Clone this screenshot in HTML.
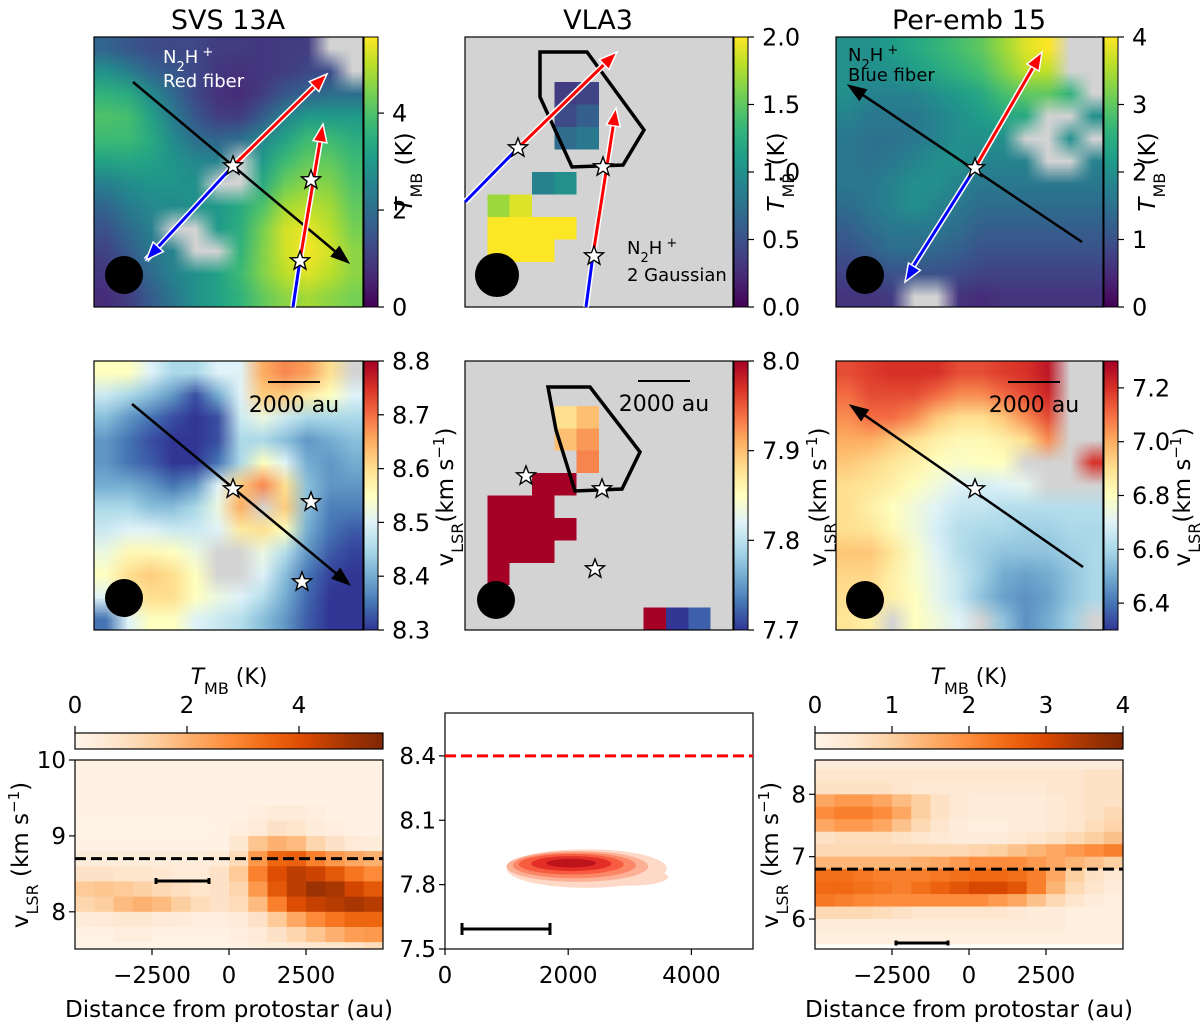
<!DOCTYPE html>
<html><head><meta charset="utf-8">
<style>
html,body{margin:0;padding:0;background:#fff;}
#wrap{position:relative;width:1200px;height:1025px;overflow:hidden;font-family:"Liberation Sans","DejaVu Sans",sans-serif;}
canvas{position:absolute;}
canvas.sm{image-rendering:auto;}
canvas.px{image-rendering:pixelated;}
svg{position:absolute;left:0;top:0;}
text{font-family:"DejaVu Sans","Liberation Sans",sans-serif;fill:#000;}
</style></head>
<body>
<div id="wrap">
<svg id="fig" width="1200" height="1025" viewBox="0 0 1200 1025">
<defs></defs>
<text x="228" y="29" font-size="27" text-anchor="middle">SVS 13A</text>
<text x="598" y="29" font-size="27" text-anchor="middle">VLA3</text>
<text x="969" y="29" font-size="27" text-anchor="middle">Per-emb 15</text>
</svg>
</div>
<script>
// ---------------- data ----------------
const svsT = [
[1.8,1.5,1.3,1.2,1.2,1.0,1.0,0.9,1.0,1.0,null,null],
[2.8,2.4,1.8,1.5,1.2,0.9,0.8,0.9,1.0,1.2,1.3,null],
[3.6,3.4,2.7,1.9,1.2,0.8,0.7,1.0,1.5,1.8,2.0,2.0],
[4.0,3.9,3.2,2.3,1.5,1.0,1.0,1.6,2.5,3.0,3.0,3.0],
[3.8,3.8,3.4,2.7,2.0,1.8,2.0,2.6,3.2,3.8,3.8,3.5],
[3.2,3.3,3.2,2.9,2.6,2.5,null,3.0,3.8,4.2,4.2,3.8],
[2.4,2.7,2.9,2.9,2.8,null,null,3.4,4.3,4.6,4.5,4.0],
[1.8,2.3,2.6,2.7,2.8,3.0,3.4,4.0,4.8,5.0,4.8,4.2],
[1.4,1.9,2.4,null,null,3.0,3.5,4.4,5.2,5.4,5.0,4.4],
[1.1,1.6,2.2,2.5,null,null,3.6,4.5,5.2,5.5,5.2,4.6],
[0.9,1.3,1.9,2.5,2.8,3.2,3.8,4.5,5.0,5.3,5.0,4.6],
[0.7,1.0,1.6,2.2,2.8,3.2,3.6,4.2,4.6,4.8,4.6,4.4]];
const N = null;
const vla3T = [
[N,N,N,N,N,N,N,N,N,N,N,N],
[N,N,N,N,N,N,N,N,N,N,N,N],
[N,N,N,N,0.35,0.4,N,N,N,N,N,N],
[N,N,N,N,0.45,0.6,N,N,N,N,N,N],
[N,N,N,N,0.7,0.8,N,N,N,N,N,N],
[N,N,N,N,N,N,N,N,N,N,N,N],
[N,N,N,0.9,1.0,N,N,N,N,N,N,N],
[N,1.7,1.9,N,N,N,N,N,N,N,N,N],
[N,2.0,2.0,2.0,2.0,N,N,N,N,N,N,N],
[N,2.0,2.0,2.0,N,N,N,N,N,N,N,N],
[N,N,N,N,N,N,N,N,N,N,N,N],
[N,N,N,N,N,N,N,N,N,N,N,N]];
const perT = [
[2.0,2.0,2.2,2.4,2.6,2.8,3.0,3.4,3.8,4.0,N,N],
[2.0,2.0,2.0,2.2,2.4,2.6,2.8,3.2,3.6,3.6,N,N],
[2.0,1.8,1.8,1.8,2.0,2.2,2.4,2.8,3.0,3.0,2.6,N],
[1.8,1.6,1.6,1.6,1.8,2.0,2.2,2.4,2.4,N,N,2.0],
[1.6,1.5,1.5,1.6,1.8,2.0,2.0,2.0,N,N,2.0,N],
[1.6,1.5,1.6,1.8,2.0,2.0,1.8,1.8,1.8,N,N,1.8],
[1.6,1.6,1.8,2.0,2.0,1.8,1.6,1.6,1.6,1.6,1.6,1.6],
[1.4,1.6,1.8,2.0,1.8,1.6,1.4,1.4,1.4,1.4,1.4,1.4],
[1.2,1.4,1.6,1.6,1.6,1.4,1.2,1.2,1.2,1.2,1.2,1.2],
[1.0,1.2,1.4,1.4,1.3,1.2,1.0,1.0,1.0,1.0,1.0,1.0],
[0.8,0.9,1.0,1.0,1.0,0.9,0.8,0.8,0.8,0.8,0.8,0.8],
[0.6,0.6,0.7,N,N,0.6,0.5,0.6,0.6,0.6,0.6,0.6]];
const svsV = [
[8.55,8.55,8.5,8.45,8.45,8.5,8.5,8.65,8.68,8.66,8.6,N],
[8.48,8.45,8.42,8.38,8.32,8.4,8.5,8.62,8.62,8.58,8.55,8.5],
[8.42,8.38,8.35,8.32,8.3,8.32,8.48,8.52,8.48,8.45,8.45,8.45],
[8.38,8.35,8.32,8.3,8.3,8.32,8.45,8.45,8.42,8.38,8.4,8.42],
[8.38,8.35,8.33,8.3,8.3,8.35,8.45,8.55,8.5,8.4,8.38,8.4],
[8.4,8.4,8.38,8.35,8.38,8.5,8.62,8.68,8.6,8.42,8.38,8.38],
[8.45,8.45,8.42,8.42,8.45,8.52,8.65,N,8.62,8.42,8.36,8.36],
[8.48,8.5,8.5,8.48,8.48,8.5,8.58,8.6,8.55,8.4,8.35,8.33],
[8.52,8.56,8.56,8.55,8.52,N,N,8.52,8.46,8.38,8.33,8.31],
[8.55,8.6,8.62,8.6,8.55,N,N,8.5,8.42,8.35,8.31,8.3],
[8.5,8.58,8.6,8.6,8.55,8.52,8.5,8.46,8.4,8.34,8.3,8.3],
[8.35,8.5,8.55,8.55,8.5,8.48,8.46,8.42,8.38,8.33,8.3,8.3]];
const vla3V = [
[N,N,N,N,N,N,N,N,N,N,N,N],
[N,N,N,N,N,N,N,N,N,N,N,N],
[N,N,N,N,7.88,7.9,N,N,N,N,N,N],
[N,N,N,N,7.9,7.92,N,N,N,N,N,N],
[N,N,N,N,N,7.93,N,N,N,N,N,N],
[N,N,N,8.0,8.0,N,N,N,N,N,N,N],
[N,8.0,8.0,8.0,N,N,N,N,N,N,N,N],
[N,8.0,8.0,8.0,8.0,N,N,N,N,N,N,N],
[N,8.0,8.0,8.0,N,N,N,N,N,N,N,N],
[N,8.0,N,N,N,N,N,N,N,N,N,N],
[N,N,N,N,N,N,N,N,N,N,N,N],
[N,N,N,N,N,N,N,N,8.0,7.7,7.72,N]];
const perV = [
[7.15,7.18,7.2,7.2,7.2,7.15,7.15,7.18,7.2,7.25,N,N],
[7.1,7.15,7.15,7.15,7.1,7.05,7.05,7.1,7.15,7.22,N,N],
[7.05,7.1,7.1,7.05,6.95,6.9,6.9,6.95,7.05,7.15,N,N],
[7.0,7.0,6.95,6.9,6.85,6.82,6.82,6.85,6.9,7.05,N,N],
[6.95,6.92,6.88,6.85,6.8,6.78,6.8,6.8,N,N,N,7.2],
[6.9,6.88,6.85,6.8,6.75,6.7,6.68,6.7,6.72,N,N,N],
[6.9,6.85,6.8,6.75,6.7,6.65,6.65,6.62,6.62,6.62,6.62,6.62],
[6.9,6.88,6.82,6.75,6.68,6.62,6.6,6.6,6.58,6.58,6.6,6.6],
[6.95,6.95,6.88,6.78,6.7,6.62,6.58,6.55,6.55,6.55,6.58,6.6],
[6.92,6.92,6.85,6.78,6.72,6.65,6.58,6.5,6.48,6.5,6.55,6.6],
[6.9,6.88,6.85,6.8,6.72,6.65,6.55,6.48,6.45,6.48,6.55,6.6],
[6.88,6.85,N,6.8,6.75,6.7,N,6.55,6.45,6.5,6.58,N]];
const pvLeftVel = [9.9,9.7,9.5,9.3,9.1,8.9,8.7,8.5,8.3,8.1,7.9,7.7,7.5];
const pvLeftT = [
[0.2,0.2,0.2,0.2,0.2,0.2,0.2,0.2,0.2,0.2,0.2,0.2,0.2,0.2,0.2,0.2],
[0.2,0.2,0.2,0.2,0.2,0.2,0.2,0.2,0.2,0.2,0.2,0.2,0.2,0.2,0.2,0.2],
[0.2,0.2,0.2,0.2,0.2,0.2,0.2,0.2,0.2,0.2,0.2,0.2,0.2,0.2,0.2,0.2],
[0.2,0.2,0.2,0.2,0.2,0.2,0.2,0.2,0.2,0.3,0.4,0.4,0.3,0.2,0.2,0.2],
[0.1,0.1,0.1,0.1,0.1,0.1,0.1,0.2,0.3,0.5,0.8,0.7,0.4,0.3,0.2,0.2],
[0.2,0.2,0.2,0.2,0.2,0.2,0.2,0.2,0.6,1.6,2.0,1.8,1.2,0.8,0.5,0.4],
[0.4,0.4,0.4,0.4,0.4,0.4,0.4,0.5,1.0,2.5,3.5,3.6,3.0,2.5,2.2,2.0],
[0.8,0.8,0.7,0.7,0.6,0.5,0.5,0.8,1.5,3.0,4.0,4.5,4.3,3.8,3.2,2.8],
[1.5,1.6,1.5,1.3,1.1,0.9,0.7,0.8,1.2,2.5,3.8,4.5,5.0,4.8,4.2,3.8],
[1.2,1.4,1.8,2.0,1.8,1.4,1.0,0.8,1.0,1.8,3.0,4.0,4.4,4.6,4.8,4.6],
[0.4,0.5,0.6,0.6,0.5,0.4,0.3,0.3,0.4,0.8,1.5,2.2,2.8,3.2,3.5,3.5],
[0.2,0.2,0.3,0.3,0.2,0.2,0.2,0.2,0.3,0.5,0.8,1.2,1.6,2.0,2.4,2.5],
[0.1,0.1,0.1,0.1,0.1,0.1,0.1,0.1,0.2,0.3,0.4,0.5,0.6,0.7,0.8,1.0]];
const pvRightVel = [8.5,8.3,8.1,7.9,7.7,7.5,7.3,7.1,6.9,6.7,6.5,6.3,6.1,5.9,5.7];
const pvRightT = [
[0.3,0.3,0.3,0.3,0.3,0.3,0.3,0.3,0.3,0.3,0.3,0.3,0.3,0.3,0.3,0.3],
[0.5,0.5,0.5,0.5,0.5,0.5,0.5,0.5,0.5,0.5,0.5,0.5,0.5,0.5,0.6,0.6],
[0.6,0.6,0.6,0.6,0.5,0.4,0.4,0.4,0.4,0.4,0.4,0.4,0.5,0.5,0.6,0.6],
[1.6,1.8,1.8,1.6,1.3,1.0,0.6,0.4,0.3,0.3,0.3,0.3,0.4,0.5,0.6,0.6],
[2.0,2.2,2.2,2.0,1.6,1.0,0.6,0.4,0.3,0.3,0.3,0.3,0.4,0.5,0.6,0.8],
[1.6,1.8,1.8,1.6,1.2,0.8,0.5,0.3,0.2,0.2,0.3,0.3,0.4,0.5,0.7,0.9],
[0.6,0.7,0.7,0.7,0.6,0.5,0.4,0.3,0.3,0.3,0.4,0.5,0.6,0.8,1.0,1.2],
[0.8,0.8,0.8,0.8,0.8,0.8,0.8,0.8,0.9,1.0,1.2,1.4,1.6,1.8,2.0,2.2],
[1.4,1.4,1.4,1.4,1.4,1.5,1.6,1.8,2.0,2.0,2.0,1.8,1.6,1.4,1.2,1.0],
[2.4,2.4,2.3,2.2,2.2,2.2,2.3,2.4,2.5,2.5,2.4,2.2,1.6,1.0,0.6,0.4],
[2.5,2.5,2.4,2.3,2.2,2.4,2.6,2.8,3.0,3.0,2.8,2.2,1.4,0.8,0.5,0.3],
[2.3,2.2,2.1,2.0,2.0,2.0,2.0,2.0,2.0,1.8,1.6,1.2,0.8,0.5,0.3,0.2],
[0.8,0.8,0.8,0.7,0.6,0.5,0.5,0.5,0.5,0.5,0.4,0.3,0.3,0.2,0.2,0.2],
[0.3,0.3,0.3,0.3,0.3,0.3,0.3,0.3,0.3,0.3,0.3,0.3,0.3,0.2,0.2,0.2],
[0.2,0.2,0.2,0.2,0.2,0.2,0.2,0.2,0.2,0.2,0.2,0.2,0.2,0.2,0.2,0.2]];
const vlaCx = [2300,2150,2100,2050,2050,2050];
const vlaCv = [7.875,7.885,7.89,7.895,7.898,7.9];
const vlaRx = [1300,1150,1000,850,650,400];
const vlaRv = [0.09,0.072,0.06,0.048,0.035,0.02];
const vlaLobeX = [3000], vlaLobeV = [7.835], vlaLobeRx = [620], vlaLobeRv = [0.04];
const vlaSysV = [8.4];
const svsSysV = [8.7], perSysV = [6.8];
const tkSvsT=[0,2,4], tkVlaT=[0,0.5,1.0,1.5,2.0], tkPerT=[0,1,2,3,4];
const tkSvsV=[8.3,8.4,8.5,8.6,8.7,8.8], tkVlaV=[7.7,7.8,7.9,8.0], tkPerV=[6.4,6.6,6.8,7.0,7.2];
const tkPvX=[-2500,0,2500], tkPvLY=[10,9,8], tkPvRY=[8,7,6];
const tkMidX=[0,2000,4000], tkMidY=[7.5,7.8,8.1,8.4];
const tkCbL=[0,2,4], tkCbR=[0,1,2,3,4];

// ---------------- helpers ----------------
const NS='http://www.w3.org/2000/svg';
const svg=document.getElementById('fig');
const wrap=document.getElementById('wrap');
function mk(tag,attrs,parent){const e=document.createElementNS(NS,tag);for(const k in attrs)e.setAttribute(k,attrs[k]);(parent||svg).appendChild(e);return e;}
const VIR=[[68,1,84],[72,40,120],[62,74,137],[49,104,142],[38,130,142],[31,158,137],[53,183,121],[110,206,88],[181,222,43],[253,231,37]];
const RYB=[[49,54,149],[69,117,180],[116,173,209],[171,217,233],[224,243,248],[255,255,191],[254,224,144],[253,174,97],[244,109,67],[215,48,39],[165,0,38]];
const ORG=[[255,245,235],[254,230,206],[253,208,162],[253,174,107],[253,141,60],[241,105,19],[217,72,1],[166,54,3],[127,39,4]];
const RED=[[255,245,240],[254,224,210],[252,187,161],[252,146,114],[251,106,74],[239,59,44],[203,24,29],[165,15,21],[103,0,13]];
function cm(map,t){t=Math.max(0,Math.min(1,t));const f=t*(map.length-1);const i=Math.min(map.length-2,Math.floor(f));const r=f-i;const a=map[i],b=map[i+1];return [0,1,2].map(k=>Math.round(a[k]+(b[k]-a[k])*r));}
function rgb(c){return 'rgb('+c[0]+','+c[1]+','+c[2]+')';}

function drawMap(name,grid,vmin,vmax,map,x,y,w,h,cls){
  const rows=grid.length,cols=grid[0].length;
  const c=document.createElement('canvas');
  c.width=cols;c.height=rows;c.className=cls;
  c.style.left=x+'px';c.style.top=y+'px';c.style.width=w+'px';c.style.height=h+'px';
  
  
  const ctx=c.getContext('2d');const img=ctx.createImageData(cols,rows);
  for(let r=0;r<rows;r++)for(let k=0;k<cols;k++){const v=grid[r][k];const col=v===null?[211,211,211]:cm(map,(v-vmin)/(vmax-vmin));const o=(r*cols+k)*4;img.data[o]=col[0];img.data[o+1]=col[1];img.data[o+2]=col[2];img.data[o+3]=255;}
  ctx.putImageData(img,0,0);
  wrap.insertBefore(c,svg);
  const fr=mk('rect',{x:x,y:y,width:w,height:h,fill:'none',stroke:'#000','stroke-width':1.2});
  
  
}
let gid=0;
function vbar(name,map,x,y0,y1,vmin,vmax,ticks,fmt){
  const id='g'+(gid++);const defs=svg.querySelector('defs');
  const g=mk('linearGradient',{id:id,x1:0,y1:1,x2:0,y2:0},defs);
  for(let i=0;i<=20;i++)mk('stop',{offset:i/20,'stop-color':rgb(cm(map,i/20))},g);
  const r=mk('rect',{x:x,y:y0,width:14,height:y1-y0,fill:'url(#'+id+')',stroke:'#000','stroke-width':1});
  
  
  ticks.forEach(t=>{const yy=y1-(t-vmin)/(vmax-vmin)*(y1-y0);
    mk('line',{x1:x+14,x2:x+20,y1:yy,y2:yy,stroke:'#000','stroke-width':1.2});
    const tx=mk('text',{x:x+28,y:yy+8.5,'font-size':24});tx.textContent=fmt(t);
    
    });
}
function hbar(name,map,x0,x1,y,vmin,vmax,ticks){
  const id='g'+(gid++);const defs=svg.querySelector('defs');
  const g=mk('linearGradient',{id:id,x1:0,y1:0,x2:1,y2:0},defs);
  for(let i=0;i<=20;i++)mk('stop',{offset:i/20,'stop-color':rgb(cm(map,i/20))},g);
  const r=mk('rect',{x:x0,y:y,width:x1-x0,height:16,fill:'url(#'+id+')',stroke:'#000','stroke-width':1.2});
  
  
  ticks.forEach(t=>{const xx=x0+(t-vmin)/(vmax-vmin)*(x1-x0);
    mk('line',{x1:xx,x2:xx,y1:y,y2:y-7,stroke:'#000','stroke-width':1.2});
    const tx=mk('text',{x:xx,y:y-20,'font-size':23,'text-anchor':'middle'});tx.textContent=String(t);
    
    });
}
function starPath(cx,cy,R){let d='';for(let i=0;i<10;i++){const r=i%2?R*0.42:R;const a=-Math.PI/2+i*Math.PI/5;d+=(i?'L':'M')+(cx+r*Math.cos(a)).toFixed(1)+','+(cy+r*Math.sin(a)).toFixed(1);}return d+'Z';}
function star(cx,cy,name){const s=mk('path',{d:starPath(cx,cy,10),fill:'#fff',stroke:'#000','stroke-width':1.4});
  
  }
function beam(cx,cy,r){const b=mk('circle',{cx:cx,cy:cy,r:r,fill:'#000'});
  
  }
function arrowHead(x0,y0,x1,y1,color,L,W,outline){
  const dx=x1-x0,dy=y1-y0,len=Math.hypot(dx,dy),ux=dx/len,uy=dy/len;
  const bx=x1-ux*L,by=y1-uy*L;const pts=[[x1,y1],[bx-uy*W,by+ux*W],[bx+uy*W,by-ux*W]];
  return mk('polygon',{points:pts.map(p=>p.join(',')).join(' '),fill:color,stroke:outline||color,'stroke-width':outline?1.5:1});
}
function arrow(x0,y0,x1,y1,color,name,outline){
  const dx=x1-x0,dy=y1-y0,len=Math.hypot(dx,dy);
  const ex=x1-dx/len*14,ey=y1-dy/len*14;
  if(outline){mk('line',{x1:x0,y1:y0,x2:ex,y2:ey,stroke:'#fff','stroke-width':6});}
  const l=mk('line',{x1:x0,y1:y0,x2:ex,y2:ey,stroke:color,'stroke-width':outline?3:2.5});
  
  
  const h=arrowHead(x0,y0,x1,y1,color,18,outline?7:6.5,outline?'#fff':null);
  
  
}
function seg(x0,y0,x1,y1,color){mk('line',{x1:x0,y1:y0,x2:x1,y2:y1,stroke:'#fff','stroke-width':6});
  const l=mk('line',{x1:x0,y1:y0,x2:x1,y2:y1,stroke:color,'stroke-width':3});
  
  }
function txt(x,y,s,size,anchor,color,name){const t=mk('text',{x:x,y:y,'font-size':size,'text-anchor':anchor||'start'});t.style.fill=color||'#000';t.innerHTML=s;
  
  return t;}
function scalebar(x0,x1,y,name){const l=mk('line',{x1:x0,x2:x1,y1:y,y2:y,stroke:'#000','stroke-width':2});
  
  
  txt((x0+x1)/2,y+30,'2000 au',22,'middle','#000',name+'-label');}
function poly(pts,name){const p=mk('polygon',{points:pts.map(q=>q.join(',')).join(' '),fill:'none',stroke:'#000','stroke-width':3.5,'stroke-linejoin':'miter'});
  
  }
const N2H='N<tspan baseline-shift="sub" font-size="13">2</tspan>H<tspan baseline-shift="super" font-size="13"> +</tspan>';
const TMB='<tspan font-style="italic">T</tspan><tspan baseline-shift="sub" font-size="16">MB</tspan><tspan baseline-shift="baseline"> (K)</tspan>';
const VLSR='v<tspan baseline-shift="sub" font-size="16">LSR</tspan><tspan>(km s</tspan><tspan baseline-shift="super" font-size="15">−1</tspan><tspan>)</tspan>';
const VLSR2='v<tspan baseline-shift="sub" font-size="16">LSR</tspan><tspan> (km s</tspan><tspan baseline-shift="super" font-size="15">−1</tspan><tspan>)</tspan>';
function vlabel(x,y,s,name){const t=txt(0,0,s,23,'middle','#000',name);t.setAttribute('transform','translate('+x+','+y+') rotate(-90)');}

// ---------------- row 1 ----------------
drawMap('svs13a-tmb-map',svsT,0,5.57,VIR,94,37,269,270,'sm');
drawMap('vla3-tmb-map',vla3T,0,2.0,VIR,465,37,268,270,'px');
drawMap('per-emb15-tmb-map',perT,0,4,VIR,836,37,267,270,'sm');
vbar('svs13a-tmb-colorbar',VIR,364,37,307,0,5.57,tkSvsT,t=>String(t));
vbar('vla3-tmb-colorbar',VIR,734,37,307,0,2,tkVlaT,t=>t.toFixed(1));
vbar('per-emb15-tmb-colorbar',VIR,1104,37,307,0,4,tkPerT,t=>String(t));
vlabel(412,172,TMB,'svs13a-tmb-label');
vlabel(784,172,TMB,'vla3-tmb-label');
vlabel(1155,172,TMB,'per-emb15-tmb-label');
txt(163,63,N2H,18,'start','#fff','svs13a-molecule-label');
txt(163,87,'Red fiber',18,'start','#fff','svs13a-fiber-label');
arrow(133,82,349,263,'#000','svs13a-pv-cut');
seg(146,260,233,166,'#00f');arrowHead(233,166,146,260,'#00f',18,7,'#fff');
arrow(233,166,327,74,'#f00','svs13a-red-lobe',true);
seg(293,307,300,260,'#00f');
arrow(300,260,323,124,'#f00','svs13a-red-lobe-2',true);
star(233,166,'svs13a-protostar');star(311,180,'svs13a-protostar-b');star(300,261,'svs13a-protostar-c');
beam(124,275,19);
poly([[540,52],[587,52],[644,130],[623,165],[572,167],[540,97]],'vla3-region-polygon');
seg(465,202,518,148,'#00f');
arrow(518,148,617,52,'#f00','vla3-red-lobe',true);
seg(586,307,593,255,'#00f');
arrow(593,255,616,108,'#f00','vla3-red-lobe-2',true);
star(518,148,'vla3-star-a');star(603,167,'vla3-star-b');star(594,256,'vla3-star-c');
txt(627,254,N2H,18,'start','#000','vla3-molecule-label');
txt(627,281,'2 Gaussian',18,'start','#000','vla3-method-label');
beam(497,275,22);
txt(848,61,N2H,18,'start','#000','per-emb15-molecule-label');
txt(848,81,'Blue fiber',18,'start','#000','per-emb15-fiber-label');
arrow(1082,242,848,85,'#000','per-emb15-pv-cut');
seg(975,168,912,268,'#00f');arrowHead(975,168,905,282,'#00f',18,7,'#fff');
arrow(975,168,1042,52,'#f00','per-emb15-red-lobe',true);
star(975,168,'per-emb15-protostar');
beam(865,275,19);

// ---------------- row 2 ----------------
drawMap('svs13a-velocity-map',svsV,8.3,8.8,RYB,94,361,269,269,'sm');
drawMap('vla3-velocity-map',vla3V,7.7,8.0,RYB,465,361,268,269,'px');
drawMap('per-emb15-velocity-map',perV,6.3,7.3,RYB,836,361,267,269,'sm');
vbar('svs13a-velocity-colorbar',RYB,364,361,630,8.3,8.8,tkSvsV,t=>t.toFixed(1));
vbar('vla3-velocity-colorbar',RYB,734,361,630,7.7,8.0,tkVlaV,t=>t.toFixed(1));
vbar('per-emb15-velocity-colorbar',RYB,1104,361,630,6.3,7.3,tkPerV,t=>t.toFixed(1));
vlabel(453,497,VLSR,'svs13a-velocity-label');
vlabel(826,497,VLSR,'vla3-velocity-label');
vlabel(1190,497,VLSR,'per-emb15-velocity-label');
arrow(132,404,350,585,'#000','svs13a-pv-cut-2');
star(233,489,'svs13a-v-star-a');star(311,502,'svs13a-v-star-b');star(302,582,'svs13a-v-star-c');
scalebar(268,320,382,'svs13a-scalebar');beam(124,598,19);
poly([[548,387],[590,387],[640,452],[622,489],[575,491],[556,430]],'vla3-region-polygon-2');
star(526,476,'vla3-v-star-a');star(602,489,'vla3-v-star-b');star(595,569,'vla3-v-star-c');
scalebar(638,690,381,'vla3-scalebar');beam(496,600,19);
arrow(1083,567,850,405,'#000','per-emb15-pv-cut-2');
star(975,489,'per-emb15-v-star');
scalebar(1008,1060,382,'per-emb15-scalebar');beam(865,600,19);

// ---------------- row 3 ----------------
function pvHeat(name,vel,T,xmin,xmax,vbot,vtop,px0,px1,py0,py1,vmax){
  const yv=v=>py1-(v-vbot)/(vtop-vbot)*(py1-py0);
  const g=mk('g',{'clip-path':'url(#'+name+'-clip)'});
  const cp=mk('clipPath',{id:name+'-clip'},svg.querySelector('defs'));
  mk('rect',{x:px0,y:py0,width:px1-px0,height:py1-py0},cp);
  const cols=T[0].length,cw=(px1-px0)/cols;
  for(let r=0;r<vel.length;r++)for(let k=0;k<cols;k++){
    const yTop=yv(vel[r]+0.1),yB=yv(vel[r]-0.1);
    const cell=mk('rect',{x:(px0+k*cw).toFixed(2),y:yTop.toFixed(2),width:(cw+0.6).toFixed(2),height:(yB-yTop+0.6).toFixed(2),fill:rgb(cm(ORG,T[r][k]/vmax))},g);
    
    
  }
  const fr=mk('rect',{x:px0,y:py0,width:px1-px0,height:py1-py0,fill:'none',stroke:'#000','stroke-width':1.2});
  
  
  return yv;
}
function xTicks(ticks,xmin,xmax,px0,px1,py1,name){const xs=x=>px0+(x-xmin)/(xmax-xmin)*(px1-px0);
  ticks.forEach(t=>{const xx=xs(t);mk('line',{x1:xx,x2:xx,y1:py1,y2:py1+6,stroke:'#000','stroke-width':1.2});
    const s=t<0?'−'+Math.abs(t):String(t);txt(xx,py1+34,s,23,'middle','#000',name+'-tick-label');});return xs;}
function yTicks(ticks,yv,px0,name,fmt){ticks.forEach(t=>{const yy=yv(t);mk('line',{x1:px0,x2:px0-6,y1:yy,y2:yy,stroke:'#000','stroke-width':1.2});
  txt(px0-9,yy+8,fmt(t),23,'end','#000',name+'-tick-label');});}
function dashed(y,x0,x1,color,name){const l=mk('line',{x1:x0,x2:x1,y1:y,y2:y,stroke:color,'stroke-width':3,'stroke-dasharray':'11,5'});
  
  }
function errbar(x0,x1,y,name,w){const l=mk('path',{d:'M'+x0+','+y+'H'+x1+'M'+x0+','+(y-w)+'V'+(y+w)+'M'+x1+','+(y-w)+'V'+(y+w),stroke:'#000','stroke-width':3,fill:'none'});
  
  }
const yvL=pvHeat('svs13a-pv',pvLeftVel,pvLeftT,-5000,5000,7.51,10,75,383,760,949,5.5);
xTicks(tkPvX,-5000,5000,75,383,949,'svs13a-pv-x');
yTicks(tkPvLY,yvL,75,'svs13a-pv-y',t=>String(t));
dashed(yvL(svsSysV[0]),75,383,'#000','svs13a-systemic-velocity');
errbar(156,209,881,'svs13a-resolution-bar',3);
hbar('svs13a-pv-colorbar',ORG,75,383,733,0,5.5,tkCbL);
txt(229,684,TMB,22,'middle','#000','svs13a-pv-colorbar-label');
txt(229,1017,'Distance from protostar (au)',23,'middle','#000','svs13a-pv-x-label');
vlabel(28,855,VLSR2,'svs13a-pv-y-label');
const yvR=pvHeat('per-emb15-pv',pvRightVel,pvRightT,-5000,5000,5.52,8.55,815,1123,760,949,4);
xTicks(tkPvX,-5000,5000,815,1123,949,'per-emb15-pv-x');
yTicks(tkPvRY,yvR,815,'per-emb15-pv-y',t=>String(t));
dashed(yvR(perSysV[0]),815,1123,'#000','per-emb15-systemic-velocity');
errbar(896,948,943,'per-emb15-resolution-bar',2.5);
hbar('per-emb15-pv-colorbar',ORG,815,1123,733,0,4,tkCbR);
txt(969,684,TMB,22,'middle','#000','per-emb15-pv-colorbar-label');
txt(969,1017,'Distance from protostar (au)',23,'middle','#000','per-emb15-pv-x-label');
vlabel(778,855,VLSR2,'per-emb15-pv-y-label');
(function(){
  const px0=445,px1=753,py0=713,py1=949,xmin=0,xmax=5000,vb=7.5,vt=8.6;
  const xs=x=>px0+(x-xmin)/(xmax-xmin)*(px1-px0);
  const yv=v=>py1-(v-vb)/(vt-vb)*(py1-py0);
  const sx=(px1-px0)/(xmax-xmin),sy=(py1-py0)/(vt-vb);
  const lo=mk('ellipse',{cx:xs(vlaLobeX[0]),cy:yv(vlaLobeV[0]),rx:vlaLobeRx[0]*sx,ry:vlaLobeRv[0]*sy,fill:rgb(cm(RED,0.15))});
  
  
  for(let i=0;i<vlaCx.length;i++){
    const e=mk('ellipse',{cx:xs(vlaCx[i]),cy:yv(vlaCv[i]),rx:vlaRx[i]*sx,ry:vlaRv[i]*sy,fill:rgb(cm(RED,0.15+i*0.13))});
    
    
  }
  const fr=mk('rect',{x:px0,y:py0,width:px1-px0,height:py1-py0,fill:'none',stroke:'#000','stroke-width':1.2});
  
  
  dashed(yv(vlaSysV[0]),px0,px1,'#f00','vla3-systemic-velocity');
  xTicks(tkMidX,xmin,xmax,px0,px1,py1,'vla3-pv-x');
  yTicks(tkMidY,yv,px0,'vla3-pv-y',t=>t.toFixed(1));
  errbar(462,550,929,'vla3-resolution-bar',6);
})();
</script>
</body></html>
